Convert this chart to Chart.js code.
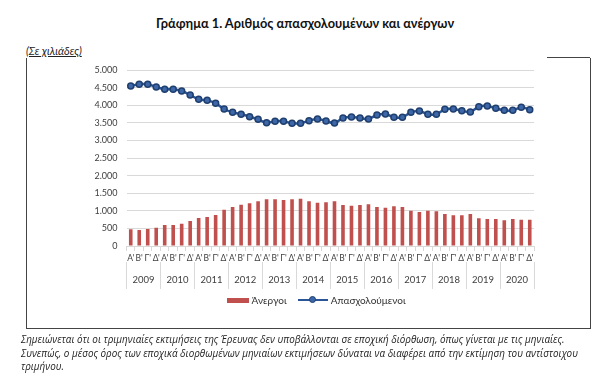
<!DOCTYPE html>
<html>
<head>
<meta charset="utf-8">
<script src="https://cdn.jsdelivr.net/npm/chart.js@4"></script>
<style>
  body { margin: 0; width: 600px; height: 385px; background: #fff; position: relative; overflow: hidden; font-family: Lato, "Open Sans", sans-serif; }
  #titlos { position: absolute; left: 0; width: 610px; top: 15px; text-align: center; font-weight: bold; font-size: 12.8px; color: #111; }
  #monada { position: absolute; left: 26px; top: 44px; font-size: 11px; font-style: italic; text-decoration: underline; color: #222; }
  #plaisio { position: absolute; left: 26px; top: 58px; width: 563px; height: 270px; border-left: 1px solid #444; border-right: 1px solid #444; border-bottom: 1px solid #444; }
  #plaisioPano { position: absolute; left: 547px; top: 57px; width: 43px; border-top: 1px solid #444; }
  #chart { position: absolute; left: 0; top: 0; }
  #ypomnima { position: absolute; top: 293px; left: 227px; font-size: 10px; color: #333; white-space: nowrap; }
  #ypomnima span { display: inline-block; vertical-align: middle; }
  #simeiosi { position: absolute; left: 21px; top: 333px; font-family: "Open Sans", sans-serif; font-size: 9.9px; font-style: italic; line-height: 13.5px; color: #222; white-space: nowrap; }
</style>
</head>
<body>
<div id="titlos">Γράφημα 1. Αριθμός απασχολουμένων και ανέργων</div>
<div id="monada">(Σε χιλιάδες)</div>
<div id="plaisio"></div>
<div id="plaisioPano"></div>
<canvas id="chart" width="600" height="385"></canvas>
<div id="ypomnima">
  <span style="width:22px;height:5px;background:#C0504D;"></span>
  <span>Άνεργοι</span>
  <span style="margin-left:9px;width:30px;height:9px;position:relative;">
    <span style="position:absolute;left:0;top:3.5px;width:30px;height:2px;background:#2a5596;"></span>
    <span style="position:absolute;left:11px;top:0.5px;width:5px;height:5px;border-radius:50%;background:#3d67a8;border:1.5px solid #1f3f6e;"></span>
  </span>
  <span>Απασχολούμενοι</span>
</div>
<div id="simeiosi">
  Σημειώνεται ότι οι τριμηνιαίες εκτιμήσεις της Έρευνας δεν υποβάλλονται σε εποχική διόρθωση, όπως γίνεται με τις μηνιαίες.<br>
  Συνεπώς, ο μέσος όρος των εποχικά διορθωμένων μηνιαίων εκτιμήσεων δύναται να διαφέρει από την εκτίμηση του αντίστοιχου<br>
  τριμήνου.
</div>

<script>
const etoi = ['2009', '2010', '2011', '2012', '2013', '2014', '2015', '2016', '2017', '2018', '2019', '2020'];
const trimina = ["Α'", "Β'", "Γ'", "Δ'"];

// σε χιλιάδες, ανά τρίμηνο 2009 Α' - 2020 Δ'
const anergoi = [
  473, 455, 483, 521,
  597, 597, 634, 710,
  795, 824, 881, 1032,
  1108, 1174, 1212, 1269,
  1326, 1326, 1307, 1326,
  1345, 1269, 1231, 1240,
  1269, 1165, 1146, 1165,
  1184, 1108, 1089, 1127,
  1108, 1004, 966, 1004,
  985, 909, 871, 871,
  909, 786, 767, 767,
  729, 767, 748, 748
];

const apasxoloumenoi = [
  4545, 4593, 4593, 4517,
  4451, 4451, 4403, 4290,
  4167, 4138, 4053, 3892,
  3797, 3741, 3674, 3598,
  3504, 3542, 3542, 3485,
  3485, 3561, 3608, 3551,
  3494, 3636, 3665, 3636,
  3608, 3722, 3750, 3655,
  3655, 3797, 3835, 3741,
  3741, 3883, 3892, 3845,
  3807, 3958, 3977, 3911,
  3854, 3854, 3939, 3873
];

const etiketes = [];
etoi.forEach(() => trimina.forEach(t => etiketes.push(t)));

function morfiArithmou(v) {
  return String(v).replace(/\B(?=(\d{3})+(?!\d))/g, '.');
}

const grammes = '#d9d9d9';
const keimeno = '#404040';

new Chart(document.getElementById('chart').getContext('2d'), {
  data: {
    labels: etiketes,
    datasets: [
      {
        type: 'bar',
        label: 'Άνεργοι',
        data: anergoi,
        backgroundColor: '#C0504D',
        barPercentage: 0.85,
        categoryPercentage: 0.5,
        order: 2
      },
      {
        type: 'line',
        label: 'Απασχολούμενοι',
        data: apasxoloumenoi,
        borderColor: '#2a5596',
        borderWidth: 2.5,
        tension: 0.35,
        pointRadius: 3,
        pointBackgroundColor: '#3d67a8',
        pointBorderColor: '#1f3f6e',
        pointBorderWidth: 1.5,
        order: 1
      }
    ]
  },
  options: {
    responsive: false,
    animation: false,
    devicePixelRatio: 1,
    layout: { padding: { left: 60.5, right: 66, top: 70, bottom: 93 } },
    plugins: { legend: { display: false }, tooltip: { enabled: false } },
    scales: {
      y: {
        min: 0,
        max: 5000,
        ticks: {
          stepSize: 500,
          padding: 9,
          color: keimeno,
          font: { family: 'Lato', size: 9 },
          callback: v => morfiArithmou(v)
        },
        grid: { color: grammes, drawTicks: false },
        border: { display: false },
        afterFit: s => { s.width = 66; }
      },
      x: {
        type: 'category',
        weight: 0,
        offset: true,
        ticks: {
          autoSkip: false,
          maxRotation: 0,
          minRotation: 0,
          padding: 2,
          color: keimeno,
          font: { family: 'Lato', size: 8.5 }
        },
        grid: { offset: true, drawOnChartArea: false, tickLength: 5, color: grammes },
        border: { color: grammes },
        afterFit: s => { s.height = 16; }
      },
      x2: {
        type: 'category',
        position: 'bottom',
        weight: 1,
        offset: true,
        labels: etoi,
        ticks: {
          padding: -15,
          color: keimeno,
          font: { family: 'Lato', size: 9.5 }
        },
        grid: { offset: true, drawOnChartArea: false, tickLength: 27, color: grammes },
        border: { display: false },
        afterFit: s => { s.height = 30; }
      }
    }
  }
});
</script>
</body>
</html>
